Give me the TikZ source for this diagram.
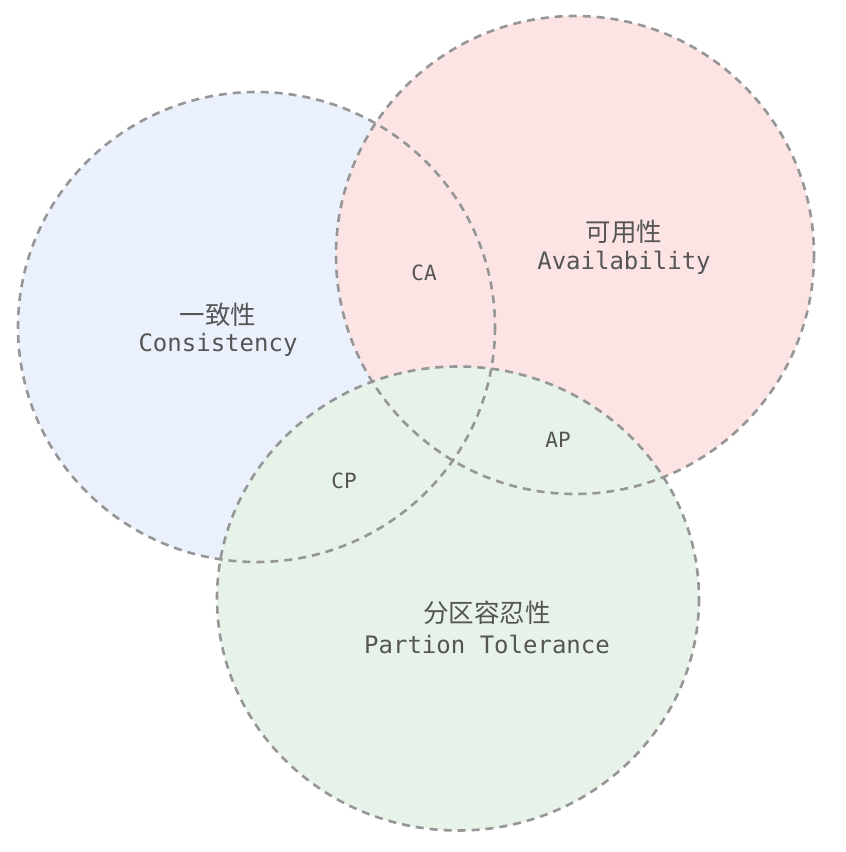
\documentclass[tikz,border=0pt]{standalone}
\usepackage{fontspec}
\setmonofont{DejaVu Sans Mono}
\newfontfamily\cjk{Noto Sans CJK SC}
\definecolor{cblue}{RGB}{234,241,253}
\definecolor{cred}{RGB}{252,228,228}
\definecolor{cgreen}{RGB}{231,242,233}
\definecolor{cline}{RGB}{150,150,150}
\definecolor{ctext}{RGB}{85,85,85}
\begin{document}
\begin{tikzpicture}[x=1pt,y=-1pt,
  ring/.style={draw=cline,line width=2.6pt,dash pattern=on 8pt off 6pt},
  cn/.style={text=ctext,font=\cjk\fontsize{25.5}{28}\selectfont,inner sep=0pt},
  en/.style={text=ctext,font=\ttfamily\fontsize{24}{26}\selectfont,inner sep=0pt},
  sm/.style={text=ctext,font=\ttfamily\fontsize{21}{24}\selectfont,inner sep=0pt}]
\useasboundingbox[fill=white] (0,0) rectangle (846,852);
\coordinate (cB) at (256.5,327);
\coordinate (cR) at (575,255);
\coordinate (cG) at (458,598.5);
\begin{scope}[transparency group,blend mode=multiply]
  \fill[cblue] (cB) ellipse[x radius=238.5,y radius=235];
  \fill[cred] (cR) circle[radius=239];
  \fill[cgreen] (cG) ellipse[x radius=241,y radius=232];
\end{scope}
\draw[ring] (cB) ellipse[x radius=238.5,y radius=235];
\draw[ring] (cR) circle[radius=239];
\draw[ring] (cG) ellipse[x radius=241,y radius=232];
\node[cn] (c1) at (218,315) {一致性};
\node[en] (e1) at (218,345) {Consistency};
\node[cn] (c2) at (624,232) {可用性};
\node[en] (e2) at (624,263) {Availability};
\node[cn] (c3) at (487,613) {分区容忍性};
\node[en] (e3) at (487,644) {Partion Tolerance};
\node[sm] (ca) at (424,273) {CA};
\node[sm] (ap) at (558,440) {AP};
\node[sm] (cp) at (344,481) {CP};
\end{tikzpicture}
\end{document}
